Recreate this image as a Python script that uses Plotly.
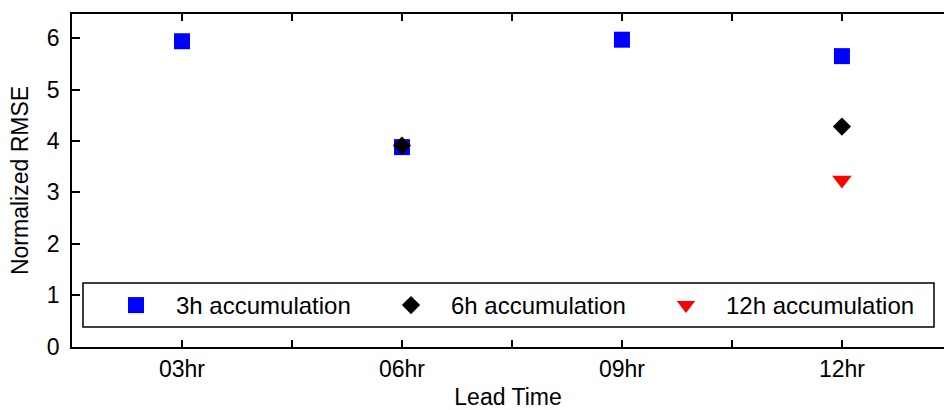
import plotly.graph_objects as go

categories = ["03hr", "06hr", "09hr", "12hr"]
cat_pos = [1, 2, 3, 4]
acc3h = [5.94, 3.88, 5.97, 5.65]
acc6h = [None, 3.91, None, 4.28]
acc12h = [None, None, None, 3.24]
series_names = ["3h accumulation", "6h accumulation", "12h accumulation"]
yticks = [0, 1, 2, 3, 4, 5, 6]

FONT = "Liberation Sans, Arial, sans-serif"

fig = go.Figure()
fig.add_trace(go.Scatter(x=cat_pos, y=acc3h, mode="markers", name=series_names[0],
                         marker=dict(symbol="square", size=16, color="#0000ff")))
fig.add_trace(go.Scatter(x=cat_pos, y=acc6h, mode="markers", name=series_names[1],
                         marker=dict(symbol="diamond", size=14, color="#000000")))
fig.add_trace(go.Scatter(x=cat_pos, y=acc12h, mode="markers", name=series_names[2],
                         marker=dict(symbol="triangle-down", size=17, color="#ff0000")))

tickvals = []
ticktext = []
for i, c in enumerate(categories):
    tickvals.append(cat_pos[i])
    ticktext.append(c)
    tickvals.append(cat_pos[i] + 0.5)
    ticktext.append("")

# plot area in pixels: x 72..944, y 14..347
PW, PH = 872.0, 333.0

def px_x(p):
    return (p - 72) / PW

def px_y(p):
    return (347 - p) / PH

fig.add_shape(type="rect", xref="paper", yref="paper",
              x0=px_x(83), x1=px_x(934), y0=px_y(327), y1=px_y(283),
              line=dict(color="black", width=1.5), fillcolor="white", layer="above")

fig.update_layout(
    width=944, height=410,
    margin=dict(l=72, r=0, t=14, b=63),
    paper_bgcolor="white", plot_bgcolor="white",
    font=dict(family=FONT, size=23, color="black"),
    showlegend=True,
    legend=dict(
        orientation="h", x=px_x(96), y=px_y(283), xanchor="left", yanchor="top",
        borderwidth=0, bgcolor="rgba(0,0,0,0)",
        font=dict(family=FONT, size=24, color="black"),
        itemwidth=70, entrywidth=190, entrywidthmode="pixels",
    ),
    xaxis=dict(
        range=[0.5, 4.464], tickmode="array", tickvals=tickvals, ticktext=ticktext,
        ticks="inside", ticklen=7, tickcolor="black", tickwidth=1.5,
        showline=True, linecolor="black", linewidth=1.5, mirror="ticks",
        showgrid=False, zeroline=False,
        title=dict(text="Lead Time", standoff=10, font=dict(size=23)),
        tickfont=dict(size=23), ticklabelstandoff=1,
    ),
    yaxis=dict(
        range=[-0.01, 6.47], tickmode="array", tickvals=yticks,
        ticks="inside", ticklen=8, tickcolor="black", tickwidth=1.5,
        showline=True, linecolor="black", linewidth=1.5, mirror=False,
        showgrid=False, zeroline=False,
        title=dict(text="Normalized RMSE", standoff=12, font=dict(size=23)),
        tickfont=dict(size=23), ticklabelstandoff=6,
    ),
)

fig.write_html("out.html")
